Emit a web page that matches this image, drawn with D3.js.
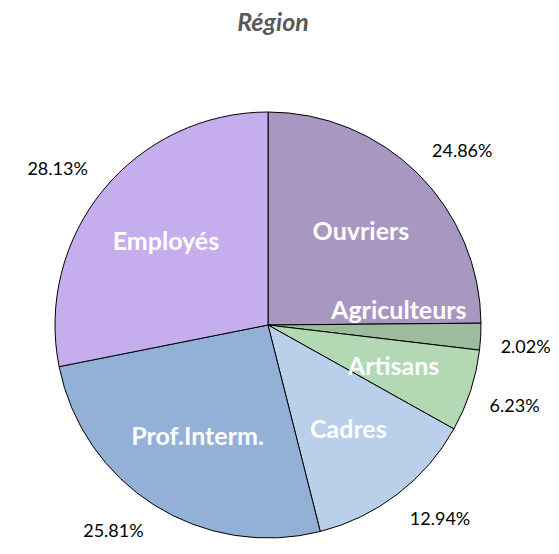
<!DOCTYPE html>
<html>
<head>
<meta charset="utf-8">
<script src="https://cdn.jsdelivr.net/npm/d3@7"></script>
<style>
  body { margin: 0; background: #fff; }
  text { font-family: Lato, "Open Sans", sans-serif; }
</style>
</head>
<body>
<div id="chart"></div>
<script>
// données
var categories = ["Ouvriers", "Agriculteurs", "Artisans", "Cadres", "Prof.Interm.", "Employés"];
var values = [24.86, 2.02, 6.23, 12.94, 25.81, 28.13];
var colors = ["#a797c1", "#9dbb9d", "#b2d8b4", "#bacfe9", "#93b1d7", "#c6adee"];

var width = 559, height = 554;
var cx = 268, cy = 325, radius = 213;

var data = categories.map(function(c, i) { return { cat: c, value: values[i], color: colors[i] }; });

var svg = d3.select("#chart").append("svg")
  .attr("width", width)
  .attr("height", height);

// titre
svg.append("text")
  .attr("x", 273)
  .attr("y", 31)
  .attr("text-anchor", "middle")
  .attr("font-size", "25px")
  .attr("font-weight", "bold")
  .attr("font-style", "italic")
  .attr("fill", "#595959")
  .text("Région");

var pie = d3.pie().sort(null).value(function(d) { return d.value; });
var arcs = pie(data);

var arc = d3.arc().innerRadius(0).outerRadius(radius);

var g = svg.append("g").attr("transform", "translate(" + cx + "," + cy + ")");

g.selectAll("path")
  .data(arcs)
  .enter().append("path")
  .attr("d", arc)
  .attr("fill", function(d) { return d.data.color; })
  .attr("stroke", "#000")
  .attr("stroke-width", 1);

// étiquettes à l'intérieur
var labelArc = d3.arc().innerRadius(132).outerRadius(132);
g.selectAll(".cat")
  .data(arcs)
  .enter().append("text")
  .attr("class", "cat")
  .attr("transform", function(d) {
    var c = labelArc.centroid(d);
    // petit décalage pour éviter le chevauchement des petites parts
    if (d.data.cat === "Agriculteurs") { c[0] = c[0] - 1; c[1] = c[1] - 22; }
    return "translate(" + c[0] + "," + c[1] + ")";
  })
  .attr("text-anchor", "middle")
  .attr("dy", "0.35em")
  .attr("font-size", "25px")
  .attr("font-weight", "bold")
  .attr("fill", "#fff")
  .text(function(d) { return d.data.cat; });

// pourcentages à l'extérieur
g.selectAll(".pct")
  .data(arcs)
  .enter().append("text")
  .attr("class", "pct")
  .attr("text-anchor", "middle")
  .attr("dy", "0.35em")
  .attr("font-size", "18px")
  .attr("fill", "#000")
  .text(function(d) { return d.data.value.toFixed(2) + "%"; })
  .attr("transform", function(d) {
    var a = (d.startAngle + d.endAngle) / 2;
    var r = radius + 20;
    var half = this.getComputedTextLength() / 2;
    var x = Math.sin(a) * r + (Math.sin(a) >= 0 ? half : -half);
    var y = -Math.cos(a) * r + (Math.cos(a) >= 0 ? -9 : 9);
    // rester dans la fenêtre
    x = Math.min(x, width - cx - half - 4);
    return "translate(" + x + "," + y + ")";
  });
</script>
</body>
</html>
